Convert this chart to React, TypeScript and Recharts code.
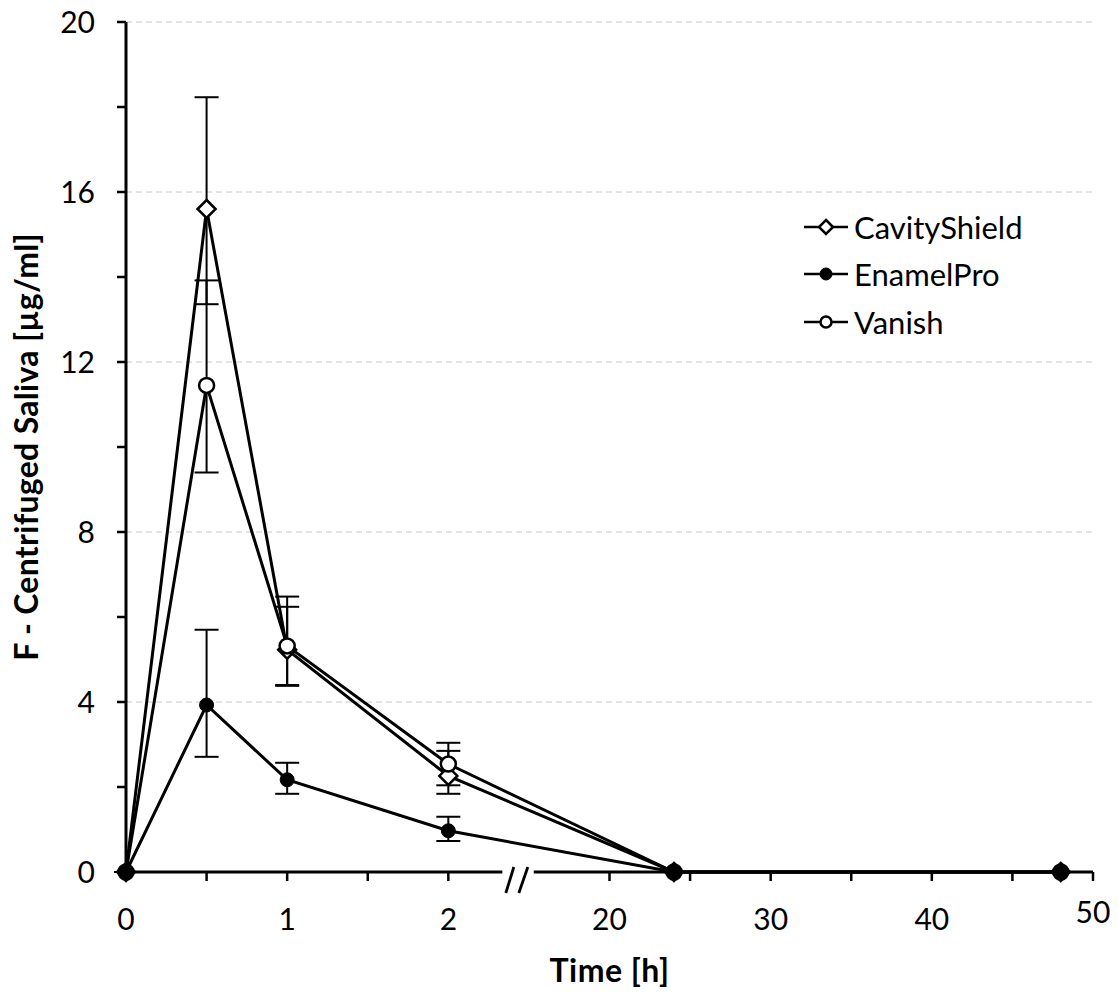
import { LineChart, Line, XAxis, YAxis, ErrorBar, ReferenceLine, ReferenceDot, Legend } from "recharts";

const FONT = "Lato, 'Open Sans', sans-serif";

// sampling times in hours
const TIMES = [0, 0.5, 1, 2, 24, 48];

const CAVITY = [0, 15.6, 5.23, 2.26, 0, 0];
const CAVITY_ERR: [number, number][] = [[0, 0], [2.24, 2.63], [0.85, 1.01], [0.42, 0.59], [0, 0], [0, 0]];

const ENAMEL = [0, 3.93, 2.17, 0.97, 0, 0];
const ENAMEL_ERR: [number, number][] = [[0, 0], [1.22, 1.77], [0.33, 0.4], [0.24, 0.33], [0, 0], [0, 0]];

const VANISH = [0, 11.45, 5.32, 2.54, 0, 0];
const VANISH_ERR: [number, number][] = [[0, 0], [2.05, 2.47], [0.92, 1.16], [0.5, 0.5], [0, 0], [0, 0]];

// x axis is broken: 0-2 h, then 20-50 h
const X_TICKS = [0, 0.5, 1, 1.5, 2, 3, 3.5, 4, 4.5, 5, 5.5, 6];
const X_LABELS: Record<number, string> = { 0: "0", 1: "1", 2: "2", 3: "20", 4: "30", 5: "40", 6: "50" };
const Y_TICKS = [0, 2, 4, 6, 8, 10, 12, 14, 16, 18, 20];
const GRID_VALUES = [4, 8, 12, 16, 20];

const toAxis = (t: number) => (t <= 2 ? t : 3 + (t - 20) / 10);

const build = (vals: number[], errs: [number, number][]) =>
  TIMES.map((t, i) => ({ x: toAxis(t), y: vals[i], err: errs[i] }));

const cavityData = build(CAVITY, CAVITY_ERR);
const enamelData = build(ENAMEL, ENAMEL_ERR);
const vanishData = build(VANISH, VANISH_ERR);

const Diamond = ({ cx, cy, r = 9 }: { cx: number; cy: number; r?: number }) => (
  <path d={`M${cx},${cy - r}L${cx + r},${cy}L${cx},${cy + r}L${cx - r},${cy}Z`} fill="#fff" stroke="#000" strokeWidth={2.5} />
);

const OpenDot = ({ cx, cy, r = 7.5 }: { cx: number; cy: number; r?: number }) => (
  <circle cx={cx} cy={cy} r={r} fill="#fff" stroke="#000" strokeWidth={2.5} />
);

const FilledDot = ({ cx, cy, r = 7 }: { cx: number; cy: number; r?: number }) => (
  <circle cx={cx} cy={cy} r={r} fill="#000" stroke="#000" strokeWidth={1} />
);

const XTick = (p: any) => {
  const v = p.payload.value;
  const lift = v === 6 ? 7 : 0;
  return (
    <text x={p.x} y={p.y - lift} dy="0.75em" textAnchor="middle" fontSize={30} fontFamily={FONT} fill="#000">
      {X_LABELS[v] ?? ""}
    </text>
  );
};

const AxisBreak = (p: any) => {
  const { cx, cy } = p;
  return (
    <g stroke="#000" strokeWidth={2.8}>
      <line x1={cx - 11} y1={cy + 21} x2={cx - 3} y2={cy - 5} />
      <line x1={cx + 2} y1={cy + 21} x2={cx + 11} y2={cy - 5} />
    </g>
  );
};

const LEGEND_ROWS = [
  { name: "CavityShield", mark: (cx: number, cy: number) => <Diamond cx={cx} cy={cy} r={7} /> },
  { name: "EnamelPro", mark: (cx: number, cy: number) => <FilledDot cx={cx} cy={cy} r={6} /> },
  { name: "Vanish", mark: (cx: number, cy: number) => <OpenDot cx={cx} cy={cy} r={5.5} /> },
];

const LegendBox = () => (
  <div style={{ fontFamily: FONT, fontSize: 31, color: "#000" }}>
    {LEGEND_ROWS.map((row) => (
      <div key={row.name} style={{ display: "flex", alignItems: "center", height: 47.5 }}>
        <svg width={48} height={30} style={{ marginRight: 4 }}>
          <line x1={2} y1={15} x2={46} y2={15} stroke="#000" strokeWidth={2.5} />
          {row.mark(24, 15)}
        </svg>
        <span>{row.name}</span>
      </div>
    ))}
  </div>
);

export default function App() {
  return (
    <div style={{ position: "absolute", left: 0, top: 0, background: "#fff" }}>
      <LineChart width={1118} height={993} margin={{ top: 22, right: 25, bottom: 0, left: 0 }}>
        {GRID_VALUES.map((v) => (
          <ReferenceLine key={v} y={v} stroke="#c8c8c8" strokeDasharray="6 4" strokeWidth={1} />
        ))}
        <XAxis
          type="number"
          dataKey="x"
          domain={[0, 6]}
          ticks={X_TICKS}
          interval={0}
          allowDuplicatedCategory={false}
          axisLine={false}
          tickLine={{ stroke: "#000", strokeWidth: 2.5 }}
          tickSize={9}
          tickMargin={26}
          tick={<XTick />}
          height={121}
          label={{
            value: "Time [h]",
            position: "insideBottom",
            offset: 11,
            style: { fontFamily: FONT, fontSize: 32, fontWeight: 700, fill: "#000", letterSpacing: 0.5 },
          }}
        />
        <YAxis
          type="number"
          domain={[0, 20]}
          ticks={Y_TICKS}
          interval={0}
          width={126}
          axisLine={{ stroke: "#000", strokeWidth: 3 }}
          tickLine={{ stroke: "#000", strokeWidth: 2.5 }}
          tickSize={9}
          tickMargin={22}
          tickFormatter={(v: number) => (v % 4 === 0 ? String(v) : "")}
          tick={{ fontSize: 30, fontFamily: FONT, fill: "#000" }}
          label={{
            value: "F - Centrifuged Saliva [µg/ml]",
            angle: -90,
            position: "insideLeft",
            offset: 27,
            style: { textAnchor: "middle", fontFamily: FONT, fontSize: 32, fontWeight: 700, fill: "#000", letterSpacing: 0.3 },
          }}
        />
        <ReferenceLine segment={[{ x: 0, y: 0 }, { x: 2.335, y: 0 }]} stroke="#000" strokeWidth={3} />
        <ReferenceLine segment={[{ x: 2.53, y: 0 }, { x: 6, y: 0 }]} stroke="#000" strokeWidth={3} />
        <ReferenceDot x={2.425} y={0} r={0} shape={<AxisBreak />} ifOverflow="visible" />

        <Line
          data={cavityData}
          dataKey="y"
          name="CavityShield"
          type="linear"
          stroke="#000"
          strokeWidth={3}
          isAnimationActive={false}
          dot={(p: any) => <Diamond key={`c${p.index}`} cx={p.cx} cy={p.cy} />}
        >
          <ErrorBar dataKey="err" direction="y" width={12} stroke="#000" strokeWidth={2} isAnimationActive={false} />
        </Line>
        <Line
          data={vanishData}
          dataKey="y"
          name="Vanish"
          type="linear"
          stroke="#000"
          strokeWidth={3}
          isAnimationActive={false}
          dot={(p: any) => <OpenDot key={`v${p.index}`} cx={p.cx} cy={p.cy} />}
        >
          <ErrorBar dataKey="err" direction="y" width={12} stroke="#000" strokeWidth={2} isAnimationActive={false} />
        </Line>
        <Line
          data={enamelData}
          dataKey="y"
          name="EnamelPro"
          type="linear"
          stroke="#000"
          strokeWidth={3}
          isAnimationActive={false}
          dot={(p: any) => <FilledDot key={`e${p.index}`} cx={p.cx} cy={p.cy} />}
        >
          <ErrorBar dataKey="err" direction="y" width={12} stroke="#000" strokeWidth={2} isAnimationActive={false} />
        </Line>
        <Legend
          layout="vertical"
          align="center"
          verticalAlign="middle"
          content={<LegendBox />}
          wrapperStyle={{ left: 802, top: 203, width: 300, height: 150 }}
        />
      </LineChart>
    </div>
  );
}
